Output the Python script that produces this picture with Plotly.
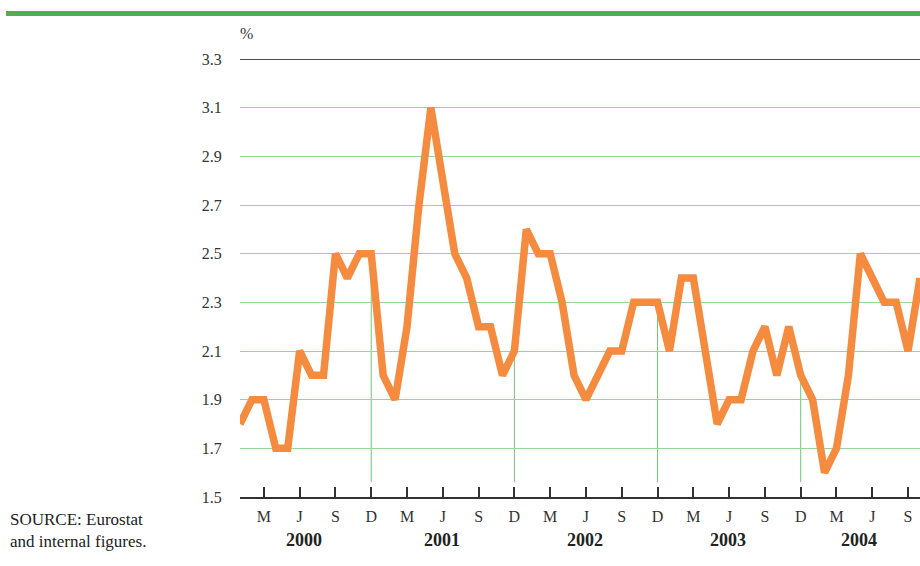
import plotly.graph_objects as go

# ---- data ----
years = ["2000", "2001", "2002", "2003", "2004"]
month_letters = ["M", "J", "S", "D"]
values = [1.8, 1.9, 1.9, 1.7, 1.7, 2.1, 2.0, 2.0, 2.5, 2.4, 2.5, 2.5,
          2.0, 1.9, 2.2, 2.7, 3.1, 2.8, 2.5, 2.4, 2.2, 2.2, 2.0, 2.1,
          2.6, 2.5, 2.5, 2.3, 2.0, 1.9, 2.0, 2.1, 2.1, 2.3, 2.3, 2.3,
          2.1, 2.4, 2.4, 2.1, 1.8, 1.9, 1.9, 2.1, 2.2, 2.0, 2.2, 2.0,
          1.9, 1.6, 1.7, 2.0, 2.5, 2.4, 2.3, 2.3, 2.1, 2.4]
y_ticks = [1.5, 1.7, 1.9, 2.1, 2.3, 2.5, 2.7, 2.9, 3.1, 3.3]

months = list(range(len(values)))  # month index, 0 = Jan 2000

# ---- styles ----
ORANGE = "#F48B3E"
GRID = "#9AD49A"
VGREEN = "#72C672"
BAND = "#4CAF50"
DARK = "#333333"
SERIF = "Liberation Serif"

# x ticks: March, June, September, December of each year, plus axis ends
tickvals = [0]
ticktext = [""]
for i in range(2, len(values), 3):
    tickvals.append(i)
    ticktext.append(month_letters[(i - 2) // 3 % 4])
tickvals.append(len(values) - 1)
ticktext.append("")

fig = go.Figure()
fig.add_trace(go.Scatter(
    x=months, y=values, mode="lines",
    line=dict(color=ORANGE, width=7.5),
    hoverinfo="skip", showlegend=False,
))

shapes = []
# vertical December markers from axis up to the line
for i in range(11, len(values), 12):
    shapes.append(dict(type="line", xref="x", yref="y", x0=i, x1=i,
                       y0=1.56, y1=values[i], layer="below",
                       line=dict(color=VGREEN, width=1)))
# top rule at 3.3
shapes.append(dict(type="line", xref="paper", yref="y", x0=0, x1=1,
                   y0=3.3, y1=3.3, line=dict(color="#111111", width=1.5)))
# green band at top of the figure
shapes.append(dict(type="line", xref="paper", yref="paper",
                   x0=-234 / 680, x1=1, y0=(497 - 13.5) / 438, y1=(497 - 13.5) / 438,
                   line=dict(color=BAND, width=5)))

annotations = []
year_pos = [5.4, 16.9, 28.9, 40.9, 51.9]
for yr, xp in zip(years, year_pos):
    annotations.append(dict(text="<b>" + yr + "</b>", x=xp, xref="x",
                            y=(497 - 540) / 438, yref="paper",
                            showarrow=False, xanchor="center", yanchor="middle",
                            font=dict(family=SERIF, size=18, color="#222222")))
annotations.append(dict(text="%", x=6 / 680, xref="paper", y=(497 - 34) / 438,
                        yref="paper", showarrow=False, xanchor="center",
                        yanchor="middle", font=dict(family=SERIF, size=16, color="#333333")))
annotations.append(dict(text="SOURCE: Eurostat<br>and internal figures.",
                        x=-232 / 680, xref="paper", y=(497 - 530) / 438, yref="paper",
                        showarrow=False, xanchor="left", yanchor="middle", align="left",
                        font=dict(family=SERIF, size=17, color="#222222")))

fig.update_layout(
    width=920, height=566,
    margin=dict(l=240, r=0, t=59, b=69),
    paper_bgcolor="white", plot_bgcolor="white",
    shapes=shapes, annotations=annotations,
    xaxis=dict(range=[0, len(values) - 1], tickvals=tickvals, ticktext=ticktext,
               showgrid=False, zeroline=False, showline=True, linecolor=DARK,
               linewidth=2, ticks="inside", ticklen=10, tickwidth=1.5,
               tickcolor=DARK, ticklabelstandoff=4,
               tickfont=dict(family=SERIF, size=16, color="#333333")),
    yaxis=dict(range=[1.5, 3.3], tickvals=y_ticks,
               ticktext=["%.1f" % v for v in y_ticks],
               showgrid=True, gridcolor=GRID, gridwidth=1, zeroline=False,
               showline=False, ticks="outside", ticklen=14,
               tickcolor="rgba(0,0,0,0)",
               tickfont=dict(family=SERIF, size=16, color="#333333")),
)

# remove the default page margin so the figure fills the window exactly
fig.write_html("out.html",
               config={"displayModeBar": False},
               post_script="document.body.style.margin='0';"
                           "document.body.style.overflow='hidden';")
